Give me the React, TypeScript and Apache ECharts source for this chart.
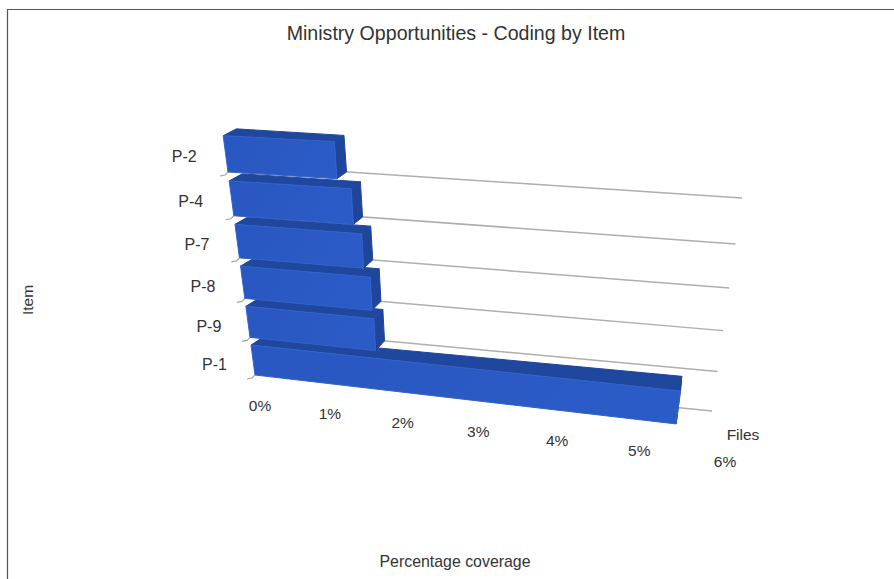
import React, { useEffect, useRef } from "react";
import * as echarts from "echarts";

const categories = ["P-1", "P-9", "P-8", "P-7", "P-4", "P-2"];
const coverage = [5.59, 1.76, 1.74, 1.66, 1.56, 1.39];
const percentLabels = ["0%", "1%", "2%", "3%", "4%", "5%", "6%"];
const percentValues = [0, 1, 2, 3, 4, 5, 6];

const FONT = '"Liberation Sans", Arial, sans-serif';
const TEXT = "#333333";
const BAR_THICKNESS = 0.8;

type Pt = [number, number];
// Corners of the floor planes: [0%/bottom, 6%/bottom, 0%/top, 6%/top]
const FRONT: Pt[] = [[255, 375], [711, 428], [228, 172], [745, 204]];
const BACK: Pt[] = [[267, 367], [712, 411], [241, 165], [742, 198]];

const warp = (s: number, r: number) => s / (s + (1 - s) * r);
const bilinear = (c: Pt[], t: number, w: number): Pt => {
  const lerp = (i: number) =>
    (1 - w) * ((1 - t) * c[0][i] + t * c[1][i]) + w * ((1 - t) * c[2][i] + t * c[3][i]);
  return [lerp(0), lerp(1)];
};
// Maps axis fractions plus a depth fraction onto the tilted chart box.
const project = (s: number, u: number, d: number): Pt => {
  const t = warp(s, 1.13);
  const w = warp(u, 1.1);
  const f = bilinear(FRONT, t, w);
  const b = bilinear(BACK, t, w);
  return [f[0] + (b[0] - f[0]) * d, f[1] + (b[1] - f[1]) * d];
};

const axisFractions = (params: any, api: any, value: number, row: number) => {
  const cs = params.coordSys;
  const p = api.coord([value, row]);
  return [(p[0] - cs.x) / cs.width, (cs.y + cs.height - p[1]) / cs.height];
};

const renderGridLine = (params: any, api: any) => {
  const row = api.value(1);
  const [s0, u] = axisFractions(params, api, 0, row);
  const [s1] = axisFractions(params, api, 6, row);
  const front = project(s0, u, 0);
  return {
    type: "group",
    children: [
      {
        type: "polyline",
        shape: { points: [project(s0, u, 1), project(s1, u, 1)] },
        style: { stroke: "#b0aeaa", lineWidth: 1.5, fill: "none" },
      },
      {
        type: "polyline",
        shape: {
          points: [
            [front[0] - 8, front[1] + 4],
            [front[0] - 3, front[1] + 3],
            [front[0] + 1, front[1] - 1],
          ],
        },
        style: { stroke: "#a8a6a2", lineWidth: 1.2, fill: "none" },
      },
    ],
  };
};

const renderBar = (params: any, api: any) => {
  const value = api.value(0);
  const row = api.value(1);
  const [s0, u] = axisFractions(params, api, 0, row);
  const [s1] = axisFractions(params, api, value, row);
  const uTop = u + BAR_THICKNESS / (categories.length - 1);

  const frontFace = [project(s0, u, 0), project(s1, u, 0), project(s1, uTop, 0), project(s0, uTop, 0)];
  const topFace = [project(s0, uTop, 0), project(s1, uTop, 0), project(s1, uTop, 1), project(s0, uTop, 1)];
  const sideFace = [project(s1, u, 0), project(s1, u, 1), project(s1, uTop, 1), project(s1, uTop, 0)];

  return {
    type: "group",
    children: [
      { type: "polygon", shape: { points: topFace }, style: { fill: "#1f479e", stroke: "#1f479e", lineWidth: 1 } },
      { type: "polygon", shape: { points: sideFace }, style: { fill: "#1e459b", stroke: "#1e459b", lineWidth: 1 } },
      {
        type: "polygon",
        shape: { points: frontFace },
        style: {
          fill: new echarts.graphic.LinearGradient(0, 0, 1, 0.2, [
            { offset: 0, color: "#2957c2" },
            { offset: 1, color: "#2b5bc6" },
          ]),
          stroke: "#3364cb",
          lineWidth: 1,
        },
      },
    ],
  };
};

const renderRowLabel = (params: any, api: any) => {
  const row = api.value(1);
  const [s0, u] = axisFractions(params, api, 0, row);
  const p = project(s0, u + 0.3 / (categories.length - 1), 0);
  return {
    type: "text",
    x: p[0] - 39 - row * 0.6,
    y: p[1] + 1 - row * 0.6,
    style: {
      text: categories[row],
      fill: TEXT,
      fontFamily: FONT,
      fontSize: 16,
      align: "center",
      verticalAlign: "middle",
    },
  };
};

const renderPercentLabel = (params: any, api: any) => {
  const value = api.value(0);
  const [s, u] = axisFractions(params, api, value, 0);
  const p = project(s, u, 0);
  const k = value / 6;
  return {
    type: "text",
    x: p[0] + 5 + 9 * warp(k, 1.13),
    y: p[1] + 30 + 3 * k,
    style: {
      text: percentLabels[value],
      fill: TEXT,
      fontFamily: FONT,
      fontSize: 15.5,
      align: "center",
      verticalAlign: "middle",
    },
  };
};

const centeredText = (text: string, x: number, y: number, fontSize: number, rotation = 0) => ({
  type: "text",
  x,
  y,
  rotation,
  style: { text, fill: TEXT, fontFamily: FONT, fontSize, align: "center", verticalAlign: "middle" },
});

export default function App() {
  const ref = useRef<HTMLDivElement>(null);

  useEffect(() => {
    const chart = echarts.init(ref.current!, undefined, { renderer: "svg" });
    const rows = categories.map((_, i) => [0, i]);
    const custom = { type: "custom", coordinateSystem: "cartesian2d", encode: { x: 0, y: 1 }, silent: true, clip: false };
    chart.setOption({
      animation: false,
      backgroundColor: "#ffffff",
      grid: { left: 100, right: 100, top: 100, bottom: 100 },
      xAxis: { type: "value", min: 0, max: 6, interval: 1, show: false },
      yAxis: { type: "category", data: categories, boundaryGap: false, show: false },
      graphic: [
        {
          type: "polyline",
          shape: { points: [[7.5, 579], [7.5, 9.5], [894, 9.5]] },
          style: { stroke: "#555555", lineWidth: 1.2, fill: "none" },
        },
        centeredText("Ministry Opportunities - Coding by Item", 456, 33, 19.6),
        centeredText("Percentage coverage", 455, 561.5, 15.9),
        centeredText("Files", 743, 434.5, 15.5),
        centeredText("Item", 27, 300, 15.5, Math.PI / 2),
      ],
      series: [
        { ...custom, data: rows, renderItem: renderGridLine },
        { ...custom, data: coverage.map((v, i) => [v, i]), renderItem: renderBar },
        { ...custom, data: rows, renderItem: renderRowLabel },
        { ...custom, data: percentValues.map((v) => [v, 0]), renderItem: renderPercentLabel },
      ],
    });
    return () => chart.dispose();
  }, []);

  return <div ref={ref} style={{ position: "fixed", left: 0, top: 0, width: 894, height: 579 }} />;
}
